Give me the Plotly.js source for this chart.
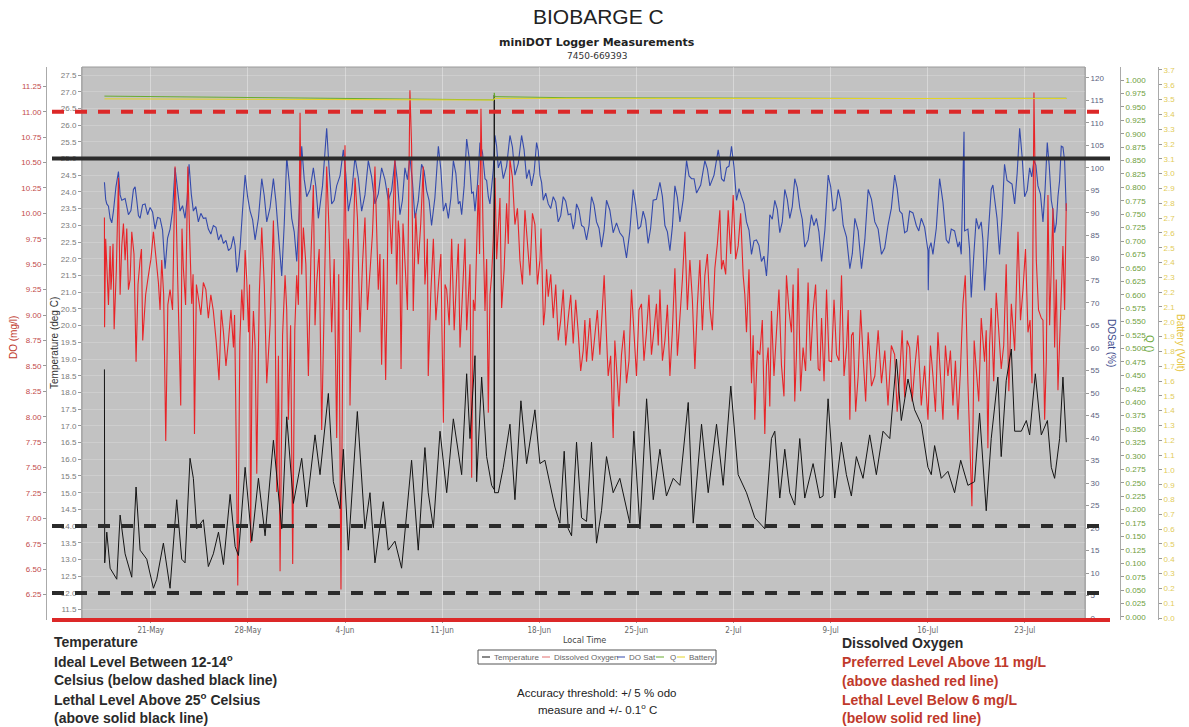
<!DOCTYPE html>
<html>
<head>
<meta charset="utf-8">
<script src="https://cdn.plot.ly/plotly-3.0.1.min.js"></script>
<style>
html,body{margin:0;padding:0;background:#fff;}
#chart{width:1189px;height:727px;}
</style>
</head>
<body>
<div id="chart"></div>
<script>
// ---------------- DATA (days since 21-May) ----------------
const tempDays = [-3.34,-3.32,-3.17,-2.93,-2.45,-2.21,-1.85,-1.37,-1.06,-0.77,-0.29,0.19,0.43,0.91,1.39,1.87,2.23,2.47,2.83,3.07,3.31,3.79,4.15,4.51,4.88,5.24,5.72,6.08,6.32,6.80,7.28,7.76,8.24,8.84,9.44,9.80,10.28,10.88,11.24,11.84,12.20,12.80,13.16,13.64,13.88,14.24,14.89,15.44,15.80,16.16,16.76,17.12,17.60,18.08,18.80,19.28,19.76,20.00,20.37,20.85,21.33,21.81,22.41,22.77,23.01,23.37,23.49,23.85,24.21,24.57,24.74,24.76,24.78,25.05,25.41,25.89,26.25,26.68,27.09,27.69,28.05,28.41,28.77,29.13,29.49,29.80,30.09,30.33,30.69,31.05,31.41,31.77,32.13,32.49,32.85,33.33,33.81,34.17,34.53,34.82,35.26,35.74,36.22,36.70,37.17,37.66,38.14,38.74,39.10,39.70,40.18,40.78,41.26,41.81,42.34,42.94,43.54,44.02,44.26,44.74,44.98,45.34,45.70,46.06,46.42,46.78,47.14,47.74,48.22,48.46,48.82,49.30,49.78,50.14,50.50,50.86,51.34,51.82,52.30,52.78,53.27,53.75,54.10,54.58,55.06,55.54,56.02,56.26,56.50,56.98,57.46,57.94,58.38,58.90,59.38,59.74,60.22,60.58,61.06,61.30,61.66,62.03,62.27,62.75,63.11,63.35,63.76,64.19,64.63,64.91,65.15,65.51,65.75,65.99];
const tempVals = [18.69,12.90,13.82,12.74,12.41,14.33,13.17,12.47,15.17,13.28,13.01,12.14,12.41,13.49,12.14,14.79,13.01,12.90,16.03,15.43,13.92,14.19,12.79,13.17,13.82,12.85,14.95,13.39,13.12,15.76,13.55,15.43,13.71,16.57,13.92,17.27,14.68,16.03,14.57,16.73,15.54,17.97,15.33,14.52,16.30,13.28,17.43,13.92,15.00,12.90,14.73,13.28,13.55,12.74,15.97,13.28,16.35,15.00,13.95,16.84,15.00,17.21,15.54,18.56,16.62,19.10,15.33,18.46,16.08,15.22,15.10,26.90,15.00,15.00,15.76,17.05,14.79,17.75,15.87,17.48,15.87,15.97,15.22,14.57,14.09,16.24,13.92,13.71,16.51,14.25,14.14,16.51,13.49,14.46,16.08,15.00,15.43,14.79,14.09,16.84,13.92,17.81,14.79,16.30,14.90,15.43,15.22,17.70,14.09,17.05,15.00,17.05,15.22,18.19,15.54,15.00,14.25,14.03,13.92,16.62,16.84,14.84,16.30,15.00,14.63,16.62,14.84,15.87,14.84,14.90,17.81,14.84,16.51,15.54,14.90,16.08,15.43,16.73,15.54,16.84,16.62,19.00,17.16,18.40,17.48,17.05,15.76,15.54,16.41,15.43,15.64,15.00,15.97,15.22,15.33,17.38,14.46,16.62,18.46,16.08,18.35,19.30,16.84,16.84,17.16,16.73,18.56,16.73,17.16,15.76,15.43,16.62,18.46,16.51];

// dissolved oxygen: main turning points
const doDays = [-3.34,-3.33,-3.17,-2.93,-2.81,-2.64,-2.33,-2.09,-1.85,-1.61,-1.37,-1.06,-0.77,-0.58,-0.17,0.19,0.55,0.79,1.08,1.39,1.75,2.16,2.35,2.67,2.95,3.15,3.43,3.79,4.15,4.51,4.92,5.24,5.60,5.96,6.12,6.27,6.56,6.80,7.04,7.20,7.40,7.64,8.00,8.36,8.84,9.08,9.32,9.68,9.92,10.23,10.52,10.76,11.00,11.36,11.72,11.96,12.32,12.68,13.04,13.40,13.71,14.00,14.24,14.36,14.72,15.08,15.44,15.80,16.16,16.40,16.64,16.93,17.12,17.60,17.84,18.04,18.32,18.68,18.80,18.92,19.28,19.64,19.88,20.00,20.37,20.73,21.09,21.33,21.69,22.05,22.29,22.65,22.89,23.13,23.37,23.61,23.80,24.09,24.33,24.57,24.81,25.05,25.29,25.65,25.89,26.25,26.61,26.97,27.33,27.69,28.05,28.22,28.41,28.65,29.01,29.37,29.73,30.09,30.45,30.81,31.17,31.41,31.65,32.01,32.37,32.68,32.97,33.33,33.57,33.93,34.29,34.65,35.01,35.37,35.73,36.09,36.45,36.70,37.06,37.42,37.78,38.14,38.50,38.86,39.22,39.58,39.94,40.30,40.66,41.02,41.26,41.62,41.98,42.34,42.70,42.94,43.30,43.54,43.90,44.26,44.50,44.74,45.10,45.46,45.82,46.18,46.42,46.66,47.02,47.38,47.74,48.11,48.35,48.71,49.07,49.43,49.79,50.15,50.39,50.63,50.99,51.35,51.71,52.19,52.67,53.14,53.62,53.98,54.34,54.70,55.06,55.54,56.02,56.38,56.74,57.10,57.46,57.82,58.18,58.54,58.71,58.90,59.19,59.50,59.86,60.10,60.34,60.58,60.94,61.30,61.66,62.03,62.51,62.87,63.23,63.52,63.66,63.83,64.19,64.43,64.67,64.91,65.15,65.39,65.63,65.75,65.99];
const doVals = [9.96,8.88,9.46,9.68,9.39,8.86,10.35,9.68,9.54,9.25,9.82,8.54,9.54,8.75,9.39,9.82,9.32,9.54,7.76,9.25,10.46,8.11,9.46,10.46,9.11,7.83,9.18,9.32,8.97,9.04,8.36,8.83,8.75,8.68,8.19,6.34,9.25,9.64,8.83,6.76,9.04,7.44,9.86,8.33,9.93,7.26,6.48,9.39,7.97,6.55,9.39,10.99,9.86,8.40,10.28,9.32,7.87,10.46,8.83,7.79,6.30,10.67,9.75,8.11,10.35,8.83,9.96,9.43,10.46,9.25,8.51,8.36,10.25,10.53,9.93,8.47,9.50,11.21,10.67,9.04,9.50,10.46,9.54,8.40,9.75,9.29,7.94,9.25,9.75,9.39,8.68,9.75,9.22,7.40,9.04,10.28,11.03,9.04,8.04,9.39,10.35,9.93,9.07,10.10,10.53,9.89,9.54,10.03,9.39,9.89,9.54,9.25,9.04,9.18,8.97,8.75,9.25,8.97,8.72,8.83,8.65,8.54,8.97,8.83,8.61,9.39,8.40,7.79,8.47,8.61,8.33,9.25,8.40,9.11,8.83,8.61,9.11,9.25,8.75,8.40,9.46,8.97,9.82,9.54,8.47,9.54,9.39,9.07,9.46,10.03,9.54,10.03,10.18,9.68,9.39,8.83,8.33,7.97,8.61,7.83,8.68,9.04,8.83,8.51,9.39,8.83,8.15,9.46,8.68,9.32,9.04,8.47,8.97,9.25,8.54,8.61,9.39,8.68,7.97,8.83,8.40,8.58,8.83,8.40,8.33,8.11,8.61,8.40,8.19,8.68,8.47,8.11,7.97,8.40,8.83,7.97,8.40,8.11,7.97,9.11,9.39,8.33,7.12,8.47,8.97,8.54,7.69,9.07,9.22,8.47,9.50,9.11,9.82,9.25,8.83,8.33,11.19,9.54,8.97,7.97,10.18,9.61,8.68,8.26,9.39,9.68,10.10];
// dissolved oxygen: in-between readings of the noisy band
const doDaysBand = [-3.25,-3.05,-2.87,-2.72,-2.48,-2.21,-1.97,-1.73,-1.49,-1.21,-0.92,-0.67,-0.37,0.01,0.37,0.67,0.93,1.23,1.57,1.95,2.25,2.51,2.81,3.05,3.29,3.61,3.97,4.33,4.71,5.08,5.42,5.78,6.04,6.42,6.68,6.92,7.12,7.30,7.52,7.82,8.18,8.60,8.96,9.20,9.50,9.80,10.08,10.38,10.64,10.88,11.18,11.54,11.84,12.14,12.50,12.86,13.22,13.55,13.86,14.12,14.30,14.54,14.90,15.26,15.62,15.98,16.28,16.52,16.78,17.02,17.36,17.72,17.94,18.18,18.50,19.10,19.46,19.76,19.94,20.18,20.55,20.91,21.21,21.51,21.87,22.17,22.47,22.77,23.01,23.25,23.49,23.70,23.95,24.21,24.45,24.69,24.93,25.17,25.47,25.77,26.07,26.43,26.79,27.15,27.51,27.87,28.13,28.31,28.53,28.83,29.19,29.55,29.91,30.27,30.63,30.99,31.29,31.53,31.83,32.19,32.53,32.83,33.15,33.45,33.75,34.11,34.47,34.83,35.19,35.55,35.91,36.27,36.58,36.88,37.24,37.60,37.96,38.32,38.68,39.04,39.40,39.76,40.12,40.48,40.84,41.14,41.44,41.80,42.16,42.52,42.82,43.12,43.42,43.72,44.08,44.38,44.62,44.92,45.28,45.64,46.00,46.30,46.54,46.84,47.20,47.56,47.92,48.23,48.53,48.89,49.25,49.61,49.97,50.27,50.51,50.81,51.17,51.53,51.95,52.43,52.91,53.38,53.80,54.16,54.52,54.88,55.30,55.78,56.20,56.56,56.92,57.28,57.64,58.00,58.36,59.35,59.68,60.22,60.46,60.76,61.12,61.48,61.85,62.27,62.69,63.05,63.38,63.99,64.31,64.55,64.79,65.03,65.27,65.51,65.87];
const doValsBand = [9.75,9.10,9.25,9.70,9.45,9.20,9.90,9.85,9.35,9.60,9.30,9.65,9.20,9.55,9.60,9.05,9.20,9.10,9.05,9.30,9.85,9.10,9.75,9.40,9.30,9.00,9.25,9.20,8.75,9.05,8.50,9.05,9.00,8.75,8.95,9.35,9.30,8.60,8.70,9.20,9.30,8.90,9.10,8.60,8.80,9.05,8.90,8.85,9.10,9.40,9.50,9.55,8.90,9.65,9.10,9.80,9.55,9.40,9.10,9.05,9.60,9.40,9.95,9.50,9.05,9.80,9.85,9.60,9.55,9.05,9.60,9.30,9.75,9.90,9.05,10.00,9.90,9.30,9.75,9.20,8.95,9.60,9.30,8.90,8.85,9.70,9.25,8.85,9.50,9.15,9.75,9.60,9.85,9.55,9.20,9.75,9.55,10.15,9.45,9.70,10.35,10.05,9.30,9.75,10.00,9.30,9.85,8.90,9.45,9.40,9.30,8.95,8.70,9.20,9.15,8.45,8.95,8.75,8.55,9.05,9.00,8.85,8.60,8.75,8.10,8.85,8.55,8.75,9.05,8.55,9.20,8.85,8.70,8.55,9.10,8.85,8.60,9.35,9.05,9.15,9.10,8.85,9.60,8.85,9.70,9.45,9.40,9.60,9.55,10.00,9.20,9.45,8.80,8.65,8.95,8.50,8.10,8.40,9.25,8.20,9.05,9.30,8.60,8.25,8.45,8.55,9.30,8.45,8.35,8.55,9.15,8.55,8.40,9.05,8.80,8.05,9.05,8.15,8.30,8.85,8.65,8.70,8.05,8.85,8.75,8.15,8.80,8.50,8.70,8.05,8.40,8.70,8.65,8.55,8.45,8.75,8.15,8.85,8.70,8.35,8.85,8.70,8.25,8.65,8.95,9.65,8.95,9.05,8.95,8.55,8.90,10.05,9.35,8.75,9.05];

// DO saturation: main turning points
const satDays = [-3.34,-3.17,-2.93,-2.69,-2.33,-2.09,-1.61,-1.25,-1.01,-0.77,-0.41,-0.05,0.31,0.67,1.03,1.39,1.75,2.11,2.47,2.76,3.07,3.43,3.79,4.15,4.51,4.88,5.24,5.60,5.96,6.20,6.44,6.80,7.16,7.52,8.00,8.36,8.84,9.20,9.44,9.80,10.16,10.52,10.88,11.24,11.72,12.08,12.68,13.04,13.40,13.88,14.24,14.72,15.20,15.68,16.16,16.64,17.12,17.60,17.96,18.32,18.68,19.04,19.52,19.88,20.24,20.73,21.09,21.45,21.81,22.17,22.41,22.77,23.13,23.37,23.73,24.09,24.33,24.57,24.81,25.05,25.41,25.89,26.25,26.73,27.09,27.45,27.81,28.05,28.29,28.65,29.01,29.37,29.73,30.09,30.45,30.69,31.05,31.41,31.77,32.13,32.49,32.85,33.33,33.81,34.29,34.77,35.13,35.49,35.85,36.21,36.70,37.06,37.42,37.78,38.14,38.62,38.98,39.34,39.94,40.30,40.90,41.14,41.50,41.86,42.22,42.58,42.94,43.30,43.66,44.02,44.38,44.62,44.98,45.34,45.70,46.06,46.42,46.78,47.14,47.62,47.98,48.35,48.83,49.19,49.55,49.91,50.39,50.75,51.23,51.71,52.19,52.67,53.14,53.62,53.98,54.34,54.70,55.18,55.54,56.02,56.04,56.10,56.38,56.86,57.34,57.70,58.18,58.42,58.62,58.66,58.90,59.14,59.50,59.86,60.10,60.58,60.82,61.18,61.54,61.90,62.27,62.63,62.99,63.35,63.66,63.95,64.31,64.62,64.91,65.15,65.39,65.63,65.87,65.99];
const satVals = [96.8,92.0,88.8,90.4,99.2,92.8,89.6,95.2,92.8,88.8,92.0,91.2,86.4,88.8,77.6,86.4,100.0,90.4,88.8,100.8,90.4,88.0,88.8,86.4,87.2,84.0,83.2,81.6,84.8,76.8,82.4,98.4,90.4,84.0,97.6,88.0,97.6,85.6,76.0,102.4,88.8,79.2,104.8,93.6,100.0,88.8,108.8,92.0,96.0,104.0,90.4,102.4,90.4,101.6,92.0,100.0,92.8,101.6,89.6,100.0,102.4,88.8,100.8,95.0,87.2,104.8,90.4,88.8,101.6,92.0,89.6,106.4,94.4,90.4,105.6,97.6,93.6,95.2,107.2,100.0,97.6,107.2,98.4,107.2,97.6,96.0,105.6,98.4,92.8,92.0,93.6,88.0,93.6,89.6,86.4,92.0,87.2,84.0,93.6,88.0,82.4,92.8,85.6,85.6,80.0,95.2,86.4,90.4,83.2,92.8,96.8,87.2,81.6,96.0,88.0,101.6,97.6,94.4,101.6,96.0,104.0,97.6,100.0,104.8,92.8,93.6,88.0,80.8,84.0,79.2,76.0,89.6,92.8,85.6,95.2,88.8,97.6,91.2,82.4,89.6,88.8,79.2,98.4,90.4,95.2,87.2,77.6,88.8,77.6,95.2,88.0,80.8,87.2,98.4,90.4,85.6,90.4,87.2,88.8,81.6,72.8,82.0,80.8,97.6,84.0,86.4,82.4,80.8,108.0,86.0,86.4,71.2,88.8,88.0,72.8,95.2,93.6,80.8,100.8,96.8,92.0,108.8,93.6,100.0,101.6,96.0,88.0,105.6,92.8,85.6,93.6,104.8,101.6,90.4];
// DO saturation: in-between readings of the noisy band
const satDaysBand = [-3.25,-3.05,-2.81,-2.51,-2.21,-1.85,-1.43,-1.13,-0.89,-0.59,-0.23,0.13,0.49,0.85,1.21,1.57,1.93,2.29,2.62,2.92,3.25,3.61,3.97,4.33,4.70,5.06,5.42,5.78,6.08,6.32,6.62,6.98,7.34,7.76,8.18,8.60,9.02,9.32,9.62,9.98,10.34,10.70,11.06,11.48,11.90,12.38,12.86,13.22,13.64,14.06,14.48,14.96,15.44,15.92,16.40,16.88,17.36,17.78,18.14,18.50,18.86,19.28,19.70,20.06,20.48,20.91,21.27,21.63,21.99,22.29,22.59,22.95,23.25,23.55,23.91,24.21,24.45,24.69,24.93,25.23,25.65,26.07,26.49,26.91,27.27,27.63,27.93,28.17,28.47,28.83,29.19,29.55,29.91,30.27,30.57,30.87,31.23,31.59,31.95,32.31,32.67,33.09,33.57,34.05,34.53,34.95,35.31,35.67,36.03,36.45,36.88,37.24,37.60,37.96,38.38,38.80,39.16,39.64,40.12,40.60,41.02,41.32,41.68,42.04,42.40,42.76,43.12,43.48,43.84,44.20,44.50,44.80,45.16,45.52,45.88,46.24,46.60,46.96,47.38,47.80,48.16,48.59,49.01,49.37,49.73,50.15,50.57,50.99,51.47,51.95,52.43,52.90,53.38,53.80,54.16,54.52,54.94,55.36,55.78,56.24,56.62,57.10,57.52,57.94,58.30,59.02,59.32,59.68,59.98,60.34,60.70,61.00,61.36,61.72,62.08,62.45,62.81,63.17,63.50,63.80,64.13,64.46,64.76,65.03,65.27,65.51,65.75];
const satValsBand = [93.0,91.5,87.8,95.8,94.0,93.2,90.5,95.8,89.4,91.8,89.6,90.2,89.0,86.2,84.4,90.5,95.6,91.6,93.0,94.2,91.4,89.9,88.9,85.3,86.8,85.2,83.9,82.2,82.6,78.5,90.8,93.6,88.5,88.8,93.8,91.2,92.5,82.4,87.5,96.8,85.8,90.2,97.5,95.2,95.8,96.0,99.5,92.8,98.2,98.6,94.4,97.8,94.0,98.0,94.2,97.4,95.0,97.0,92.8,97.4,97.0,92.6,99.4,92.8,93.4,99.6,92.2,93.2,98.8,92.6,96.0,102.2,94.6,96.4,103.4,97.2,92.0,99.6,104.8,101.6,100.4,104.6,101.0,104.0,99.6,99.0,103.8,96.8,94.4,91.0,92.4,89.4,92.6,89.8,88.0,90.6,86.8,87.2,91.8,86.6,86.0,90.6,87.8,84.6,86.0,91.8,87.0,88.4,86.6,93.0,93.6,85.8,87.0,93.4,93.0,98.2,97.6,96.2,99.8,98.4,101.6,97.0,100.4,100.2,95.4,92.0,86.2,83.8,82.8,80.4,81.4,88.6,90.8,88.0,93.0,91.4,95.6,88.6,84.0,87.2,85.8,86.2,95.8,91.0,92.8,84.6,81.0,86.0,84.0,93.0,86.4,82.2,91.0,95.4,89.8,86.0,90.0,86.0,86.8,83.4,86.6,92.4,83.2,86.0,83.6,82.0,80.4,86.4,84.0,84.2,96.2,88.8,89.2,97.2,96.4,98.8,102.4,95.0,98.0,100.6,94.2,95.0,100.6,90.6,87.6,97.2,104.6];

const qDays = [-3.34,5.0,12.0,19.9,24.74,24.76,24.80,30.0,38.0,46.0,55.0,66.0];
const qVals = [0.970,0.968,0.966,0.9635,0.963,0.976,0.969,0.967,0.966,0.966,0.9655,0.966];

const batDays = [-3.34,10.0,24.74,24.78,40.0,55.0,66.0];
const batVals = [3.505,3.500,3.497,3.508,3.506,3.508,3.507];

// reference thresholds
const doPreferred = 11, doLethal = 6;
const tempIdealLow = 12, tempIdealHigh = 14, tempLethal = 25;

// axis tick settings
const doTickStart = 6.25, doTickEnd = 11.25, doTickStep = 0.25;

// ---------------- helpers ----------------
const BASE = Date.UTC(2019, 4, 21);
const toDate = d => new Date(BASE + d * 86400000).toISOString().slice(0, 19).replace('T', ' ');
const mergeSorted = (d1, v1, d2, v2) => d1.map((d, i) => [d, v1[i]]).concat(d2.map((d, i) => [d, v2[i]])).sort((a, b) => a[0] - b[0]);

const doPairs = mergeSorted(doDays, doVals, doDaysBand, doValsBand);
const satPairs = mergeSorted(satDays, satVals, satDaysBand, satValsBand);

const W = 1189, H = 727, ML = 46, MR = 31, MT = 67, MB = 107;
const PW = W - ML - MR, PH = H - MT - MB;
const X = px => (px - ML) / PW;
const Y = py => (H - MB - py) / PH;

const tempRange = [11.19, 27.74];
const doRange = [6.0, 11.44];
const satRange = [-0.4, 122.4];
const qRange = [-0.0056, 1.0242];
const batRange = [-0.0135, 3.72];
const pT = v => (v - tempRange[0]) / (tempRange[1] - tempRange[0]);
const pDO = v => (v - doRange[0]) / (doRange[1] - doRange[0]);

const doTicks = [];
for (let v = doTickStart; v <= doTickEnd + 1e-9; v += doTickStep) doTicks.push(+v.toFixed(2));

const SANS = 'Liberation Sans, Arial, sans-serif';
const NARROW = 'Liberation Sans Narrow, DejaVu Sans Condensed, Arial Narrow, sans-serif';

const C_TEMP = '#141414', C_DO = 'rgb(232,36,40)', C_SAT = 'rgb(52,74,172)', C_Q = 'rgb(104,172,48)', C_BAT = 'rgb(228,212,40)';

const traces = [
  {x: satPairs.map(p => toDate(p[0])), y: satPairs.map(p => p[1]), yaxis: 'y', name: 'DO Sat', type: 'scatter', mode: 'lines', line: {color: C_SAT, width: 1.1}},
  {x: doPairs.map(p => toDate(p[0])), y: doPairs.map(p => p[1]), yaxis: 'y2', name: 'Dissolved Oxygen', type: 'scatter', mode: 'lines', line: {color: C_DO, width: 1.1}},
  {x: tempDays.map(toDate), y: tempVals, yaxis: 'y3', name: 'Temperature', type: 'scatter', mode: 'lines', line: {color: C_TEMP, width: 1}},
  {x: qDays.map(toDate), y: qVals, yaxis: 'y4', name: 'Q', type: 'scatter', mode: 'lines', line: {color: C_Q, width: 1}},
  {x: batDays.map(toDate), y: batVals, yaxis: 'y5', name: 'Battery', type: 'scatter', mode: 'lines', line: {color: C_BAT, width: 1}}
];

const tickCommon = {ticks: 'outside', ticklen: 3, tickcolor: '#999', showgrid: false, zeroline: false, showline: true, linecolor: '#aaa', linewidth: 1, automargin: false, fixedrange: true};

const lx0 = X(52), lx1 = X(1110);
const shapes = [
  {type: 'rect', xref: 'paper', yref: 'paper', x0: X(82), x1: X(1085), y0: 0, y1: 1, line: {color: '#9a9a9a', width: 1}, layer: 'below'},
  {type: 'line', xref: 'paper', yref: 'paper', x0: lx0, x1: lx1, y0: pDO(doPreferred), y1: pDO(doPreferred), line: {color: 'rgb(220,40,40)', width: 4, dash: '12px,11px'}},
  {type: 'line', xref: 'paper', yref: 'paper', x0: lx0, x1: lx1, y0: pDO(doLethal), y1: pDO(doLethal), line: {color: 'rgb(220,40,40)', width: 4}},
  {type: 'line', xref: 'paper', yref: 'paper', x0: lx0, x1: lx1, y0: pT(tempLethal), y1: pT(tempLethal), line: {color: '#2b2b2b', width: 4}},
  {type: 'line', xref: 'paper', yref: 'paper', x0: lx0, x1: lx1, y0: pT(tempIdealHigh), y1: pT(tempIdealHigh), line: {color: '#2b2b2b', width: 4, dash: '12px,11px'}},
  {type: 'line', xref: 'paper', yref: 'paper', x0: lx0, x1: lx1, y0: pT(tempIdealLow), y1: pT(tempIdealLow), line: {color: '#2b2b2b', width: 4, dash: '12px,11px'}},
  // legend box
  {type: 'rect', xref: 'paper', yref: 'paper', x0: X(478), x1: X(716), y0: Y(664), y1: Y(650), line: {color: '#555', width: 1}, fillcolor: 'rgba(0,0,0,0)'}
];

const legendItems = [
  {name: 'Temperature', color: C_TEMP, lx: 482, tx: 492},
  {name: 'Dissolved Oxygen', color: 'rgb(225,110,110)', lx: 542, tx: 552},
  {name: 'DO Sat', color: C_SAT, lx: 617, tx: 627},
  {name: 'Q', color: C_Q, lx: 656, tx: 668},
  {name: 'Battery', color: C_BAT, lx: 677, tx: 687}
];

const annotations = [
  {text: 'BIOBARGE C', x: X(598), y: Y(17), font: {family: SANS, size: 21, color: '#222'}},
  {text: '<b>miniDOT Logger Measurements</b>', x: X(597), y: Y(43), font: {family: 'DejaVu Sans, Verdana, sans-serif', size: 11, color: '#222'}},
  {text: '7450-669393', x: X(597), y: Y(56), font: {family: 'DejaVu Sans, Verdana, sans-serif', size: 9, color: '#333'}},
  {text: 'Local Time', x: X(584), y: Y(640), font: {family: NARROW, size: 9, color: '#444'}},
  {text: 'DO (mg/l)', x: X(13), y: Y(338), textangle: -90, font: {family: SANS, size: 10, color: '#c0392b'}},
  {text: 'Temperature (deg C)', x: X(54), y: Y(343), textangle: -90, font: {family: SANS, size: 10, color: '#333'}},
  {text: 'DOSat (%)', x: X(1112), y: Y(343), textangle: 90, font: {family: SANS, size: 10, color: '#3d4a8c'}},
  {text: 'Q ()', x: X(1150), y: Y(343), textangle: 90, font: {family: SANS, size: 10, color: '#6aa83a'}},
  {text: 'Battery (Volt)', x: X(1181), y: Y(343), textangle: 90, font: {family: SANS, size: 10, color: '#e6c43c'}},
  {text: 'Accuracy threshold: +/ 5 % odo', x: X(597), y: Y(693), font: {family: SANS, size: 11.5, color: '#222'}},
  {text: 'measure and +/- 0.1<sup>o</sup> C', x: X(597), y: Y(709), font: {family: SANS, size: 11.5, color: '#222'}}
];

const leftLines = ['Temperature', 'Ideal Level Between 12-14<sup>o</sup>', 'Celsius (below dashed black line)', 'Lethal Level Above 25<sup>o</sup> Celsius', '(above solid black line)'];
const leftY = [642, 661, 680, 699, 718];
leftLines.forEach((t, i) => annotations.push({text: t, x: X(52), y: Y(leftY[i]), xanchor: 'left', font: {family: SANS, size: 14, color: '#2a2a2a', weight: 'bold'}}));

const rightLines = ['Dissolved Oxygen', 'Preferred Level Above 11 mg/L', '(above dashed red line)', 'Lethal Level Below 6 mg/L', '(below solid red line)'];
const rightY = [643, 662, 681, 700, 718];
rightLines.forEach((t, i) => annotations.push({text: t, x: X(840), y: Y(rightY[i]), xanchor: 'left', font: {family: SANS, size: 14, color: i === 0 ? '#2a2a2a' : '#c0392b', weight: 'bold'}}));

legendItems.forEach(it => {
  shapes.push({type: 'line', xref: 'paper', yref: 'paper', x0: X(it.lx), x1: X(it.lx + 8), y0: Y(657), y1: Y(657), line: {color: it.color, width: 1}});
  annotations.push({text: it.name, x: X(it.tx), y: Y(657), xanchor: 'left', font: {family: SANS, size: 8, color: '#666'}});
});
annotations.forEach(a => { a.xref = 'paper'; a.yref = 'paper'; a.showarrow = false; if (!a.xanchor) a.xanchor = 'center'; a.yanchor = 'middle'; });

const layout = {
  width: W, height: H,
  margin: {l: ML, r: MR, t: MT, b: MB, pad: 0},
  paper_bgcolor: '#ffffff',
  plot_bgcolor: '#c2c2c2',
  showlegend: false,
  font: {family: SANS, size: 8, color: '#666'},
  xaxis: {
    type: 'date', domain: [X(82), X(1085)], range: [toDate(-4.957), toDate(67.34)],
    tick0: '2019-05-21', dtick: 7 * 86400000, tickformat: '%-d-%b',
    ticks: 'outside', ticklen: 2, tickcolor: '#999',
    tickfont: {family: NARROW, size: 8, color: '#666'},
    showgrid: true, gridcolor: 'rgba(255,255,255,0.35)', gridwidth: 1,
    zeroline: false, showline: false, automargin: false, fixedrange: true
  },
  yaxis: Object.assign({}, tickCommon, {side: 'right', anchor: 'x', range: satRange, tick0: 0, dtick: 5,
    tickfont: {family: SANS, size: 8, color: '#5a5f80'}}),
  yaxis2: Object.assign({}, tickCommon, {overlaying: 'y', side: 'left', anchor: 'free', position: 0, range: doRange,
    tickvals: doTicks, tickformat: '.2f', tickfont: {family: SANS, size: 8, color: '#c24a4a'}}),
  yaxis3: Object.assign({}, tickCommon, {overlaying: 'y', side: 'left', anchor: 'x', range: tempRange, tick0: 11.5, dtick: 0.5,
    tickformat: '.1f', tickfont: {family: SANS, size: 8, color: '#7a7a7a'},
    showgrid: true, gridcolor: 'rgba(255,255,255,0.18)', gridwidth: 1}),
  yaxis4: Object.assign({}, tickCommon, {overlaying: 'y', side: 'right', anchor: 'free', position: X(1120), range: qRange, tick0: 0, dtick: 0.025,
    tickformat: '.3f', tickfont: {family: SANS, size: 8, color: '#6e9e3c'}}),
  yaxis5: Object.assign({}, tickCommon, {overlaying: 'y', side: 'right', anchor: 'free', position: 1, range: batRange, tick0: 0, dtick: 0.1,
    tickformat: '.1f', tickfont: {family: SANS, size: 8, color: '#e2cc5a'}}),
  shapes: shapes,
  annotations: annotations
};

Plotly.newPlot('chart', traces, layout, {displayModeBar: false, staticPlot: true});
</script>
</body>
</html>
